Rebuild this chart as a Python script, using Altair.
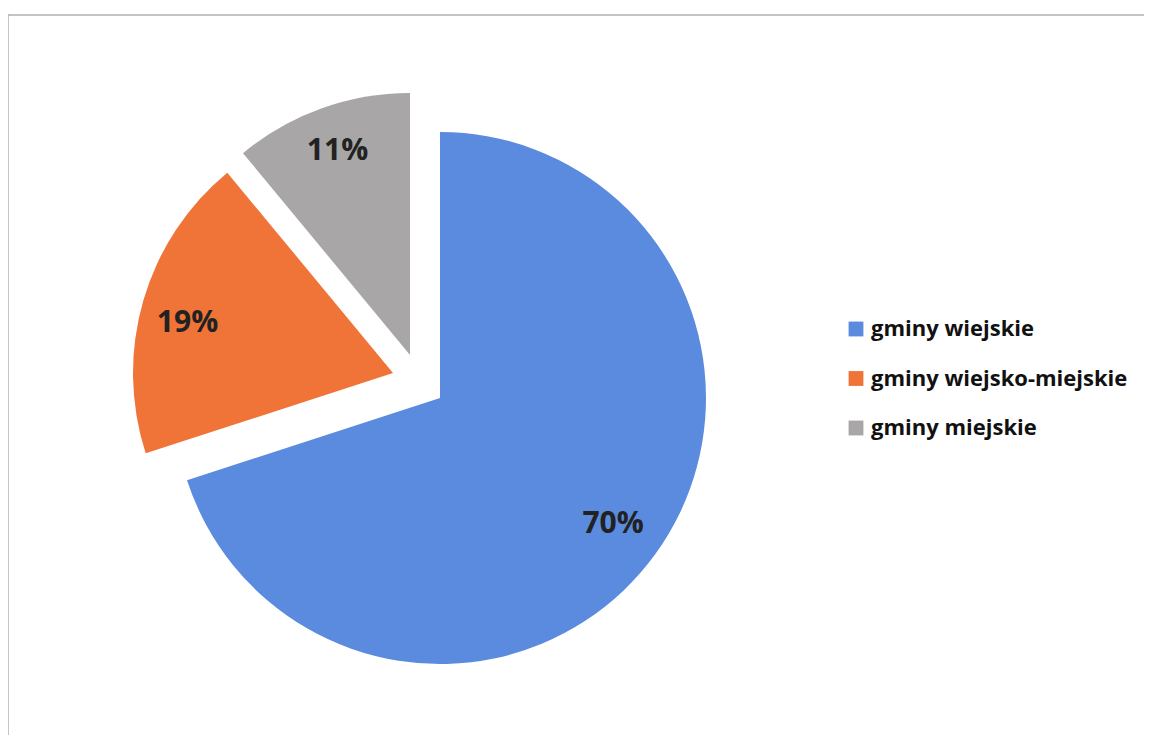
import math
import altair as alt
import pandas as pd

categories = ["gminy wiejskie", "gminy wiejsko-miejskie", "gminy miejskie"]
values = [70, 19, 11]
labels = ["70%", "19%", "11%"]
colors = ["#5B8BDF", "#F07338", "#A8A6A6"]

df = pd.DataFrame({"cat": categories, "value": values, "label": labels, "order": [0, 1, 2]})

# slice centers (explosion offsets), radii and label nudges in plot coordinates
centers = {
    "gminy wiejskie": (432, 390),
    "gminy wiejsko-miejskie": (385, 365),
    "gminy miejskie": (402, 347),
}
radii = {
    "gminy wiejskie": 266,
    "gminy wiejsko-miejskie": 260,
    "gminy miejskie": 262,
}
label_dy = {
    "gminy wiejskie": 0,
    "gminy wiejsko-miejskie": 10,
    "gminy miejskie": -3,
}
LABEL_R = 214

base = alt.Chart(df).transform_window(
    end="sum(value)", sort=[alt.SortField("order")], frame=[None, 0]
).transform_calculate(
    start="datum.end - datum.value", mid="datum.end - datum.value / 2"
)

theta_scale = alt.Scale(domain=[0, 100], range=[0, 2 * math.pi])
color = alt.Color(
    "cat:N",
    scale=alt.Scale(domain=categories, range=colors),
    sort=categories,
    legend=alt.Legend(
        title=None,
        orient="none",
        legendX=837,
        legendY=310,
        symbolType="square",
        symbolSize=220,
        symbolStrokeWidth=0,
        labelFontSize=22,
        labelFont="Open Sans",
        labelFontWeight="bold",
        labelColor="#111111",
        labelOffset=4,
        rowPadding=27.5,
        labelLimit=400,
    ),
)

layers = []
for cat in categories:
    cx, cy = centers[cat]
    sub = base.transform_filter(alt.datum.cat == cat)
    arc = sub.mark_arc(outerRadius=radii[cat]).encode(
        theta=alt.Theta("start:Q", scale=theta_scale),
        theta2="end:Q",
        color=color,
        x=alt.value(cx),
        y=alt.value(cy),
    )
    txt = sub.mark_text(
        radius=LABEL_R, fontSize=30, fontWeight="bold", font="Open Sans",
        color="#222222", dy=label_dy[cat]
    ).encode(
        theta=alt.Theta("mid:Q", scale=theta_scale),
        text="label:N",
        x=alt.value(cx),
        y=alt.value(cy),
    )
    layers += [arc, txt]

frame_df = pd.DataFrame({"a": [0]})
frame_top = alt.Chart(frame_df).mark_rule(color="#b0b0b0", strokeWidth=1.5).encode(
    x=alt.value(0), x2=alt.value(1136), y=alt.value(7)
)
frame_left = alt.Chart(frame_df).mark_rule(color="#b0b0b0", strokeWidth=1.5).encode(
    x=alt.value(0), y=alt.value(7), y2=alt.value(730)
)
frame_bottom = alt.Chart(frame_df).mark_rule(color="#d8d8d8", strokeWidth=1).encode(
    x=alt.value(0), x2=alt.value(1136), y=alt.value(729)
)

chart = alt.layer(*layers, frame_top, frame_left, frame_bottom).properties(
    width=1136, height=727, autosize=alt.AutoSizeParams(type="none"), padding=0
).configure_view(stroke=None)

chart.save("out.html", embed_options={"renderer": "svg", "actions": False})
